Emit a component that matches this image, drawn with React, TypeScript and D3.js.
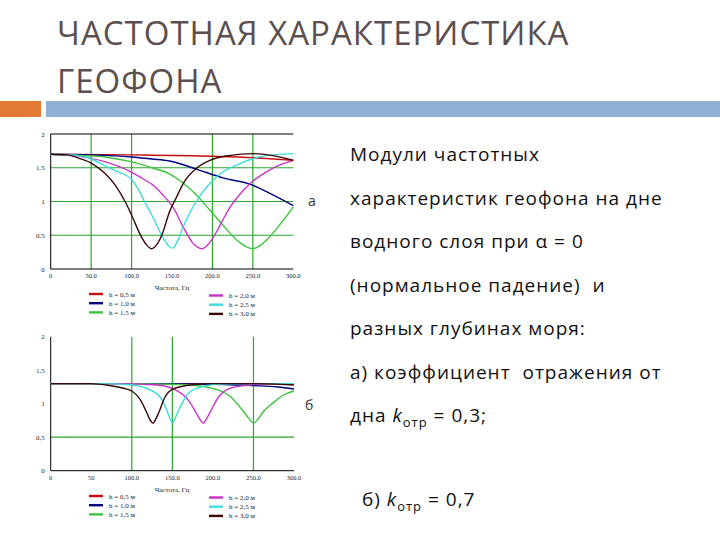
import React from "react";
import * as d3 from "d3";

// frequency (Hz) / modulus pairs
type Pt = [number, number];

const freqTicks = [0, 50, 100, 150, 200, 250, 300];
const valueTicks = [0, 0.5, 1, 1.5, 2];
const topXLabels = ["0", "50.0", "100.0", "150.0", "200.0", "250.0", "300.0"];
const bottomXLabels = ["0", "50", "100.0", "150.0", "200.0", "250.0", "300.0"];
const topYLabels = ["0", "0.5", "1", "1.5", "2"];
const bottomYLabels = ["0", "0,5", "1", "1,5", "2"];
const depthLabels = ["h = 0,5 м", "h = 1,0 м", "h = 1,5 м", "h = 2,0 м", "h = 2,5 м", "h = 3,0 м"];
const depthColors = ["#c80f0f", "#000080", "#3cc43c", "#c832c8", "#3cdcdc", "#3a0808"];

const topGridX = [50, 100, 200, 250];
const topGridY = [0.5, 1, 1.5];
const bottomGridX = [100, 150, 250];
const bottomGridY = [0.5];

// (а) k = 0,3
const topH05: Pt[] = [[0, 1.7], [100, 1.69], [200, 1.67], [250, 1.65], [300, 1.61]];
const topH10: Pt[] = [[0, 1.7], [50, 1.69], [100, 1.66], [125, 1.63], [147, 1.6], [180, 1.48], [213, 1.35], [248, 1.25], [271, 1.12], [300, 0.94]];
const topH15: Pt[] = [[0, 1.7], [40, 1.68], [67, 1.66], [99, 1.59], [125, 1.5], [147, 1.41], [164, 1.27], [180, 1.1], [197, 0.87], [213, 0.65], [230, 0.43], [242, 0.33], [250, 0.3], [258, 0.34], [267, 0.43], [283, 0.65], [300, 0.92]];
const topH20: Pt[] = [[0, 1.7], [30, 1.68], [67, 1.59], [99, 1.44], [115, 1.33], [129, 1.22], [140, 1.08], [151, 0.92], [164, 0.62], [176, 0.38], [182, 0.32], [187, 0.3], [193, 0.34], [199, 0.43], [206, 0.57], [213, 0.73], [222, 0.92], [230, 1.05], [248, 1.28], [271, 1.47], [285, 1.55], [300, 1.61]];
const topH25: Pt[] = [[0, 1.7], [25, 1.69], [50, 1.63], [67, 1.53], [85, 1.43], [99, 1.34], [108, 1.19], [116, 1.0], [125, 0.8], [133, 0.6], [141, 0.42], [147, 0.33], [151, 0.31], [157, 0.42], [164, 0.63], [172, 0.83], [180, 1.0], [197, 1.27], [212, 1.43], [230, 1.54], [254, 1.65], [275, 1.69], [300, 1.71]];
const topH30: Pt[] = [[0, 1.7], [20, 1.69], [35, 1.64], [50, 1.57], [67, 1.42], [80, 1.24], [92, 1.0], [100, 0.8], [112, 0.48], [119, 0.35], [125, 0.3], [131, 0.36], [138, 0.52], [147, 0.85], [155, 1.05], [164, 1.27], [180, 1.49], [197, 1.61], [220, 1.68], [250, 1.71], [275, 1.68], [300, 1.61]];

// (б) k = 0,7
const bottomH05: Pt[] = [[0, 1.3], [150, 1.3], [300, 1.29]];
const bottomH10: Pt[] = [[0, 1.3], [150, 1.3], [200, 1.29], [250, 1.27], [280, 1.25], [300, 1.22]];
const bottomH15: Pt[] = [[0, 1.3], [100, 1.3], [150, 1.29], [172, 1.28], [205, 1.21], [221, 1.11], [236, 0.91], [245, 0.77], [250, 0.71], [255, 0.76], [262, 0.88], [275, 1.02], [287, 1.13], [300, 1.19]];
const bottomH20: Pt[] = [[0, 1.3], [80, 1.3], [131, 1.28], [155, 1.2], [170, 1.05], [180, 0.85], [185, 0.75], [188, 0.71], [191, 0.75], [196, 0.86], [207, 1.1], [221, 1.23], [246, 1.28], [275, 1.3], [300, 1.3]];
const bottomH25: Pt[] = [[0, 1.3], [60, 1.3], [100, 1.28], [122, 1.21], [135, 1.1], [143, 0.91], [147, 0.78], [150, 0.71], [153, 0.77], [157, 0.88], [168, 1.13], [180, 1.23], [205, 1.29], [250, 1.3], [300, 1.3]];
const bottomH30: Pt[] = [[0, 1.3], [50, 1.3], [73, 1.27], [90, 1.23], [100, 1.19], [110, 1.07], [118, 0.88], [122, 0.77], [126, 0.71], [130, 0.78], [133, 0.86], [141, 1.1], [151, 1.22], [172, 1.28], [200, 1.3], [250, 1.3], [300, 1.28]];

const textLines = [
  "Модули частотных",
  "характеристик геофона на дне",
  "водного слоя при α = 0",
  "(нормальное падение)  и",
  "разных глубинах моря:",
  "а) коэффициент  отражения от",
];

const serif = "'Liberation Serif', 'DejaVu Serif', serif";
const sans = "'Open Sans', 'Noto Sans', sans-serif";

const Chart = ({ left, right, top, bottom, series, gridX, gridY, xLabels, yLabels, frameTop, legendY }) => {
  const x = d3.scaleLinear().domain([0, 300]).range([left, right]);
  const y = d3.scaleLinear().domain([0, 2]).range([bottom, top]);
  const line = d3
    .line<Pt>()
    .x((d) => x(d[0]))
    .y((d) => y(d[1]))
    .curve(d3.curveMonotoneX);

  return (
    <g>
      {gridX.map((f) => (
        <line key={"gx" + f} x1={x(f)} x2={x(f)} y1={top} y2={bottom} stroke="#2ea52e" strokeWidth={1.2} />
      ))}
      {gridY.map((v) => (
        <line key={"gy" + v} x1={left} x2={right} y1={y(v)} y2={y(v)} stroke="#2ea52e" strokeWidth={1.2} />
      ))}
      <line x1={left} x2={left} y1={top} y2={bottom} stroke="#000" strokeWidth={1} />
      <line x1={left} x2={right} y1={bottom} y2={bottom} stroke="#000" strokeWidth={1} />
      {frameTop && <line x1={left} x2={right} y1={top} y2={top} stroke="#000" strokeWidth={1} />}

      {series.map((s, i) => (
        <path key={i} d={line(s)} fill="none" stroke={depthColors[i]} strokeWidth={1.4} />
      ))}

      {valueTicks.map((v, i) => (
        <text key={"yl" + v} x={left - 6} y={y(v) + 2.5} fontSize={7} fontFamily={serif} textAnchor="end" fill="#222">
          {yLabels[i]}
        </text>
      ))}
      {freqTicks.map((f, i) => (
        <text key={"xl" + f} x={x(f)} y={bottom + 9} fontSize={6.5} fontFamily={serif} textAnchor="middle" fill="#222">
          {xLabels[i]}
        </text>
      ))}

      <text x={172} y={legendY - 1} fontSize={7} fontFamily={serif} textAnchor="middle" fill="#222">
        Частота, Гц
      </text>
      {depthLabels.map((lab, i) => {
        const col = i < 3 ? 0 : 1;
        const row = i % 3;
        const lx = col === 0 ? 89 : 209;
        const ly = legendY + 3 + row * 9.2 + col * 1.5;
        return (
          <g key={lab}>
            <line x1={lx} x2={lx + 14} y1={ly} y2={ly} stroke={depthColors[i]} strokeWidth={2.4} />
            <text x={lx + 20} y={ly + 2.5} fontSize={7} fontFamily={serif} fill="#222">
              {lab}
            </text>
          </g>
        );
      })}
    </g>
  );
};

const App = () => {
  const topSeries = [topH05, topH10, topH15, topH20, topH25, topH30];
  const bottomSeries = [bottomH05, bottomH10, bottomH15, bottomH20, bottomH25, bottomH30];

  return (
    <svg width={720} height={540} style={{ position: "absolute", left: 0, top: 0, background: "#fff" }}>
      <text x={57} y={45} fontSize={33} letterSpacing={1} fontFamily={sans} fill="#5c4f4f">
        ЧАСТОТНАЯ ХАРАКТЕРИСТИКА
      </text>
      <text x={57} y={93} fontSize={33} letterSpacing={1} fontFamily={sans} fill="#5c4f4f">
        ГЕОФОНА
      </text>
      <rect x={0} y={101} width={41} height={16} fill="#e07a35" />
      <rect x={46} y={101} width={674} height={16} fill="#8eb0d5" />

      <Chart
        left={50.7}
        right={293.3}
        top={134}
        bottom={269}
        series={topSeries}
        gridX={topGridX}
        gridY={topGridY}
        xLabels={topXLabels}
        yLabels={topYLabels}
        frameTop={true}
        legendY={291}
      />
      <Chart
        left={50.7}
        right={294}
        top={336.7}
        bottom={470.7}
        series={bottomSeries}
        gridX={bottomGridX}
        gridY={bottomGridY}
        xLabels={bottomXLabels}
        yLabels={bottomYLabels}
        frameTop={false}
        legendY={493}
      />

      <text x={308} y={206} fontSize={14} fontFamily={sans} fill="#333">а</text>
      <text x={305} y={410} fontSize={14} fontFamily={sans} fill="#333">б</text>

      {textLines.map((t, i) => (
        <text key={i} x={350} y={161 + i * 43.5} fontSize={19} letterSpacing={1} fontFamily={sans} fill="#111" xmlSpace="preserve">
          {t}
        </text>
      ))}
      <text x={350} y={422} fontSize={19} letterSpacing={1} fontFamily={sans} fill="#111">
        дна <tspan fontStyle="italic">k</tspan>
        <tspan fontSize={13} dy={5}>отр</tspan>
        <tspan dy={-5}> = 0,3;</tspan>
      </text>
      <text x={362} y={506} fontSize={19} letterSpacing={1} fontFamily={sans} fill="#111">
        б) <tspan fontStyle="italic">k</tspan>
        <tspan fontSize={13} dy={5}>отр</tspan>
        <tspan dy={-5}> = 0,7</tspan>
      </text>
    </svg>
  );
};

export default App;
